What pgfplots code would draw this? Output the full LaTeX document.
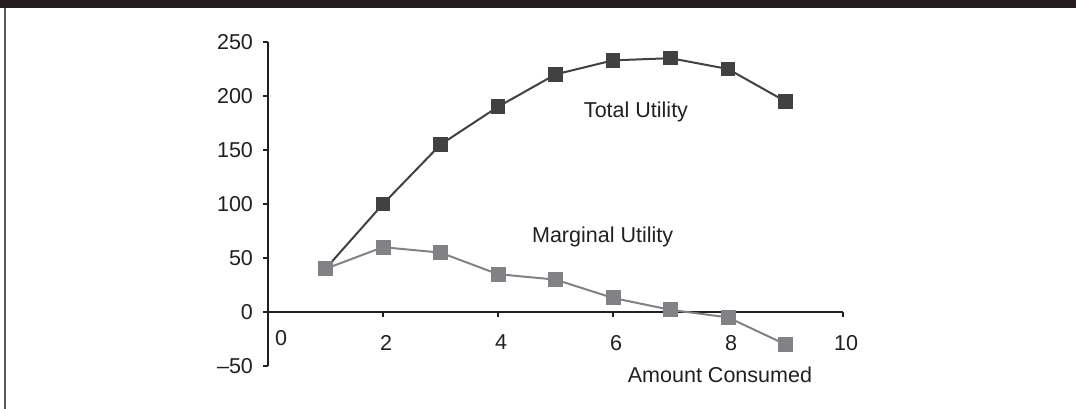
\documentclass[border=0pt]{standalone}
\usepackage{pgfplots}
\pgfplotsset{compat=1.18}
\usepackage{fontspec}
\setmainfont{Liberation Sans}

\definecolor{barink}{HTML}{231F20}
\definecolor{textink}{HTML}{231F20}
\definecolor{totalcol}{HTML}{414143}
\definecolor{margcol}{HTML}{808285}

\begin{document}
\begin{tikzpicture}
\useasboundingbox (0,0) rectangle (538bp,204.5bp);
% heading band and left rule of the panel
\fill[barink] (0,200.5bp) rectangle (538bp,204.5bp);
\draw[line width=0.8bp, black!65] (2.6bp,0) -- (2.6bp,200.5bp);

\begin{axis}[
  at={(134bp,21.5bp)}, anchor=south west,
  scale only axis, width=287.5bp, height=162bp,
  xmin=0, xmax=10, ymin=-50, ymax=250,
  axis x line=middle, axis y line=left,
  axis line style={-, line width=0.6bp, textink},
  hide obscured x ticks=false, hide obscured y ticks=false,
  xtick={2,4,6,8,10}, ytick={-50,0,50,100,150,200,250},
  yticklabels={\textendash 50,0,50,100,150,200,250},
  extra x ticks={0},
  extra x tick style={major tick length=0pt, xticklabel style={xshift=5bp}},
  tick align=outside, major tick length=2.5bp,
  tick style={line width=0.6bp, textink},
  minor tick num=0,
  /pgf/number format/assume math mode=true,
  font=\fontsize{10.8}{12}\selectfont,
  every tick label/.append style={textink},
  xticklabel style={anchor=north, yshift=-5.5bp, xshift=1.5bp},
  yticklabel style={anchor=east, xshift=-1.5bp},
  clip=false,
]
% total utility
\addplot[totalcol, line width=1bp, mark=square*, mark size=3.4bp,
  mark options={fill=totalcol, draw=totalcol, line width=0pt}]
  coordinates {(1,40) (2,100) (3,155) (4,190) (5,220) (6,233) (7,235) (8,225) (9,195)};
% marginal utility
\addplot[margcol, line width=1bp, mark=square*, mark size=3.5bp,
  mark options={fill=margcol, draw=margcol, line width=0pt}]
  coordinates {(1,40) (2,60) (3,55) (4,35) (5,30) (6,13) (7,2) (8,-5) (9,-30)};

\node[anchor=base, textink] at (axis cs:6.40,180.5) {Total Utility};
\node[anchor=base, textink] at (axis cs:5.82,64) {Marginal Utility};
\node[anchor=base, textink] at (axis cs:7.86,-65.7) {Amount Consumed};
\end{axis}
\end{tikzpicture}
\end{document}
